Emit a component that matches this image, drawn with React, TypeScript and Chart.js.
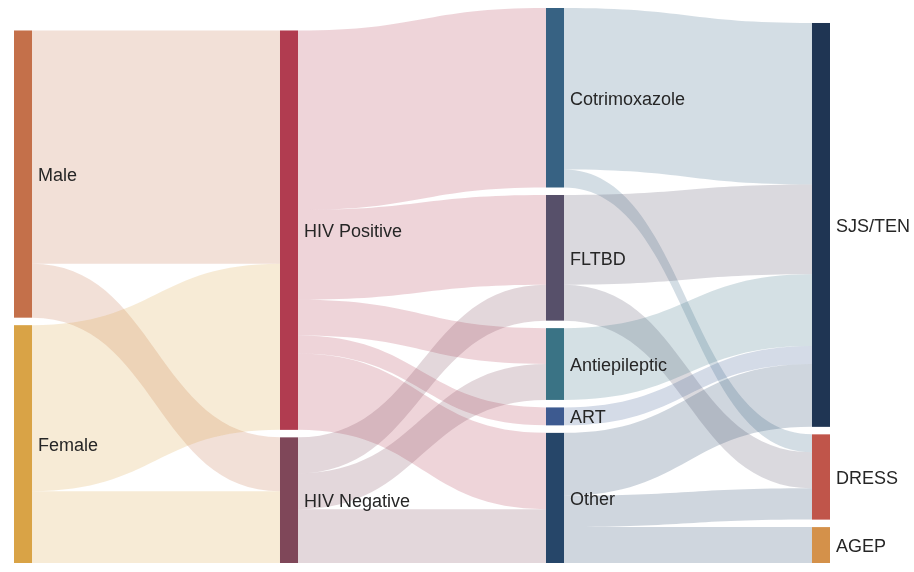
import React, { useEffect, useRef } from 'react';
import { Chart, registerables } from 'chart.js';

Chart.register(...registerables);

// ---- Data ----
const NODE_NAMES = ['Male', 'Female', 'HIV Positive', 'HIV Negative', 'Cotrimoxazole', 'FLTBD', 'Antiepileptic', 'ART', 'Other', 'SJS/TEN', 'DRESS', 'AGEP'];
const NODE_COLUMNS = [0, 0, 1, 1, 2, 2, 2, 2, 2, 3, 3, 3];
const NODE_COLORS = ['#c4704a', '#d9a346', '#b13c50', '#7f4759', '#376283', '#57506a', '#3a7385', '#3d5a90', '#264669', '#1f3553', '#c0554a', '#d4914a'];

const LINK_SOURCES = [0, 0, 1, 1, 2, 2, 2, 2, 2, 3, 3, 3, 4, 4, 5, 5, 6, 7, 8, 8, 8];
const LINK_TARGETS = [2, 3, 2, 3, 4, 5, 6, 7, 8, 5, 6, 8, 9, 10, 9, 10, 9, 9, 9, 10, 11];
const LINK_VALUES = [52, 12, 37, 16, 40, 20, 8, 4, 17, 8, 8, 12, 36, 4, 20, 8, 16, 4, 14, 7, 8];

// ---- Layout constants (in data units) ----
const NODE_W = 0.0677;
const NODE_GAP = 1.67;
const LINK_ALPHA = 0.22;

function hexToRgba(hex: string, a: number) {
  const n = parseInt(hex.slice(1), 16);
  return `rgba(${(n >> 16) & 255},${(n >> 8) & 255},${n & 255},${a})`;
}

function computeLayout() {
  const n = NODE_NAMES.length;
  const inSum = new Array(n).fill(0);
  const outSum = new Array(n).fill(0);
  LINK_VALUES.forEach((v, i) => {
    outSum[LINK_SOURCES[i]] += v;
    inSum[LINK_TARGETS[i]] += v;
  });
  const value = inSum.map((v, i) => Math.max(v, outSum[i]));
  const top = new Array(n).fill(0);
  const bottom = new Array(n).fill(0);
  const cols = Array.from(new Set(NODE_COLUMNS));
  let ymax = 0;
  cols.forEach((c) => {
    const ids = NODE_NAMES.map((_, i) => i).filter((i) => NODE_COLUMNS[i] === c);
    let cur = 0;
    for (let k = ids.length - 1; k >= 0; k--) {
      const i = ids[k];
      bottom[i] = cur;
      top[i] = cur + value[i];
      cur = top[i] + NODE_GAP;
    }
    ymax = Math.max(ymax, cur - NODE_GAP);
  });
  const links = LINK_VALUES.map((v, i) => ({ s: LINK_SOURCES[i], t: LINK_TARGETS[i], v, sy: 0, ty: 0 }));
  for (let i = 0; i < n; i++) {
    const outs = links.filter((l) => l.s === i).sort((a, b) => a.t - b.t);
    let off = top[i];
    outs.forEach((l) => { l.sy = off; off -= l.v; });
    const ins = links.filter((l) => l.t === i).sort((a, b) => a.s - b.s);
    off = top[i];
    ins.forEach((l) => { l.ty = off; off -= l.v; });
  }
  return { top, bottom, links, ymax };
}

const LAYOUT = computeLayout();

const sankeyPlugin = {
  id: 'sankeyDraw',
  beforeDatasetsDraw(chart: any) {
    const { ctx, scales } = chart;
    const xs = scales.x;
    const ys = scales.y;
    ctx.save();
    LAYOUT.links.forEach((l) => {
      const x0 = xs.getPixelForValue(NODE_COLUMNS[l.s] + NODE_W);
      const x1 = xs.getPixelForValue(NODE_COLUMNS[l.t]);
      const xm = (x0 + x1) / 2;
      const s0 = ys.getPixelForValue(l.sy);
      const s1 = ys.getPixelForValue(l.sy - l.v);
      const t0 = ys.getPixelForValue(l.ty);
      const t1 = ys.getPixelForValue(l.ty - l.v);
      ctx.beginPath();
      ctx.moveTo(x0, s0);
      ctx.bezierCurveTo(xm, s0, xm, t0, x1, t0);
      ctx.lineTo(x1, t1);
      ctx.bezierCurveTo(xm, t1, xm, s1, x0, s1);
      ctx.closePath();
      ctx.fillStyle = hexToRgba(NODE_COLORS[l.s], LINK_ALPHA);
      ctx.fill();
    });
    NODE_NAMES.forEach((name, i) => {
      const xl = xs.getPixelForValue(NODE_COLUMNS[i]);
      const xr = xs.getPixelForValue(NODE_COLUMNS[i] + NODE_W);
      const yt = ys.getPixelForValue(LAYOUT.top[i]);
      const yb = ys.getPixelForValue(LAYOUT.bottom[i]);
      ctx.fillStyle = NODE_COLORS[i];
      ctx.fillRect(xl, yt, xr - xl, yb - yt);
      ctx.fillStyle = '#262626';
      ctx.font = '18px "Liberation Sans", Arial, Helvetica, sans-serif';
      ctx.textAlign = 'left';
      ctx.textBaseline = 'middle';
      ctx.fillText(name, xr + 6, (yt + yb) / 2 + 2);
    });
    ctx.restore();
  },
};

export default function App() {
  const canvasRef = useRef<HTMLCanvasElement | null>(null);
  useEffect(() => {
    if (!canvasRef.current) return;
    const centers = NODE_NAMES.map((_, i) => ({
      x: NODE_COLUMNS[i] + NODE_W / 2,
      y: (LAYOUT.top[i] + LAYOUT.bottom[i]) / 2,
    }));
    const chart = new Chart(canvasRef.current, {
      type: 'scatter',
      data: { datasets: [{ data: centers, pointRadius: 0, pointHoverRadius: 0 }] },
      options: {
        animation: false,
        responsive: true,
        maintainAspectRatio: false,
        layout: { padding: { left: 14, right: 84, top: 8, bottom: 9 } },
        plugins: { legend: { display: false }, tooltip: { enabled: false } },
        scales: {
          x: { type: 'linear', min: 0, max: 3 + NODE_W, display: false },
          y: { type: 'linear', min: 0, max: LAYOUT.ymax, display: false },
        },
      },
      plugins: [sankeyPlugin],
    });
    return () => chart.destroy();
  }, []);
  return (
    <div style={{ position: 'absolute', left: 0, top: 0, width: 914, height: 572, background: '#fff' }}>
      <canvas ref={canvasRef} />
    </div>
  );
}
